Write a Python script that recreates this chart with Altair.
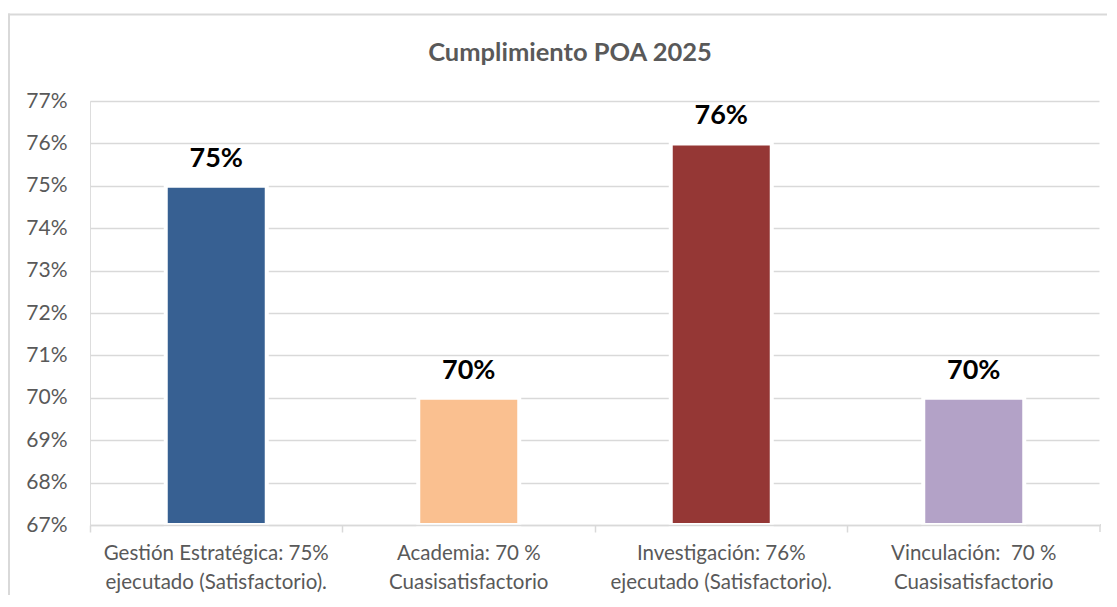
import altair as alt
import pandas as pd

categories = [
    "Gestión Estratégica: 75%|ejecutado (Satisfactorio).",
    "Academia: 70 %|Cuasisatisfactorio",
    "Investigación: 76%|ejecutado (Satisfactorio).",
    "Vinculación: \u00a070 %|Cuasisatisfactorio",
]
values = [0.75, 0.70, 0.76, 0.70]
colors = ["#376092", "#FAC090", "#953735", "#B3A2C7"]
y_ticks = [0.67, 0.68, 0.69, 0.70, 0.71, 0.72, 0.73, 0.74, 0.75, 0.76, 0.77]
title_text = ["Cumplimiento POA 2025"]

df = pd.DataFrame({"cat": categories, "val": values, "color": colors})
tdf = pd.DataFrame({"t": title_text})

FONT = "Lato"
GRAY = "#595959"
LINE = "#d9d9d9"
W, H = 1010, 424

x_enc = alt.X(
    "cat:N",
    sort=None,
    scale=alt.Scale(paddingInner=0.6, paddingOuter=0.3),
    axis=alt.Axis(
        title=None,
        labelAngle=0,
        labelExpr="split(datum.label, '|')",
        labelFont=FONT,
        labelFontSize=20.5,
        labelColor=GRAY,
        labelLineHeight=29,
        labelPadding=11,
        labelLimit=400,
        bandPosition=-0.75,
        tickExtra=False,
        tickSize=7,
        tickColor=LINE,
        tickWidth=1.5,
        domainColor=LINE,
        domainWidth=1.5,
        grid=False,
        zindex=1,
    ),
)
y_scale = alt.Scale(domain=[0.67, 0.77], zero=False, nice=False)

bars = alt.Chart(df).mark_bar(stroke="white", strokeWidth=4).encode(
    x=x_enc,
    y=alt.Y(
        "val:Q",
        scale=y_scale,
        axis=alt.Axis(
            title=None,
            values=y_ticks,
            format=".0%",
            labelFont=FONT,
            labelFontSize=21,
            labelColor=GRAY,
            labelPadding=23,
            ticks=False,
            domain=False,
            grid=True,
            gridColor=LINE,
            gridWidth=1.5,
        ),
    ),
    y2=alt.datum(0.67),
    color=alt.Color("color:N", scale=None),
)

labels = alt.Chart(df).mark_text(
    font=FONT, fontSize=27, fontWeight="bold", color="black",
    baseline="alphabetic", dy=-19,
).encode(
    x=alt.X("cat:N", sort=None),
    y=alt.Y("val:Q", scale=y_scale),
    text=alt.Text("val:Q", format=".0%"),
)

last_tick = alt.Chart(tdf).mark_rect(color=LINE).encode(
    x=alt.value(W - 0.75), x2=alt.value(W + 0.75),
    y=alt.value(H), y2=alt.value(H + 7),
)

edge_cover = alt.Chart(tdf).mark_rect(color="white").encode(
    x=alt.value(W - 0.5), x2=alt.value(W + 3),
    y=alt.value(-2), y2=alt.value(H - 1),
)

border_top = alt.Chart(tdf).mark_rect(color=LINE).encode(
    x=alt.value(-82), x2=alt.value(W + 7), y=alt.value(-87.5), y2=alt.value(-85.5)
)
border_left = alt.Chart(tdf).mark_rect(color=LINE).encode(
    x=alt.value(-82), x2=alt.value(-80), y=alt.value(-87.5), y2=alt.value(H + 70)
)

title = alt.Chart(tdf).mark_text(
    font=FONT, fontSize=25.5, fontWeight="bold", color=GRAY,
    align="center", baseline="alphabetic",
).encode(
    text="t:N",
    x=alt.value(480),
    y=alt.value(-40),
)

chart = (
    alt.layer(border_top, border_left, bars, labels, edge_cover, last_tick, title)
    .properties(
        width=W,
        height=H,
        autosize=alt.AutoSizeParams(type="none"),
        padding={"left": 82, "top": 93, "right": 7, "bottom": 70},
    )
    .configure_view(strokeWidth=0, strokeOpacity=0)
    .configure(background="white")
)

chart.save("out.html", embed_options={"renderer": "svg", "actions": False})
